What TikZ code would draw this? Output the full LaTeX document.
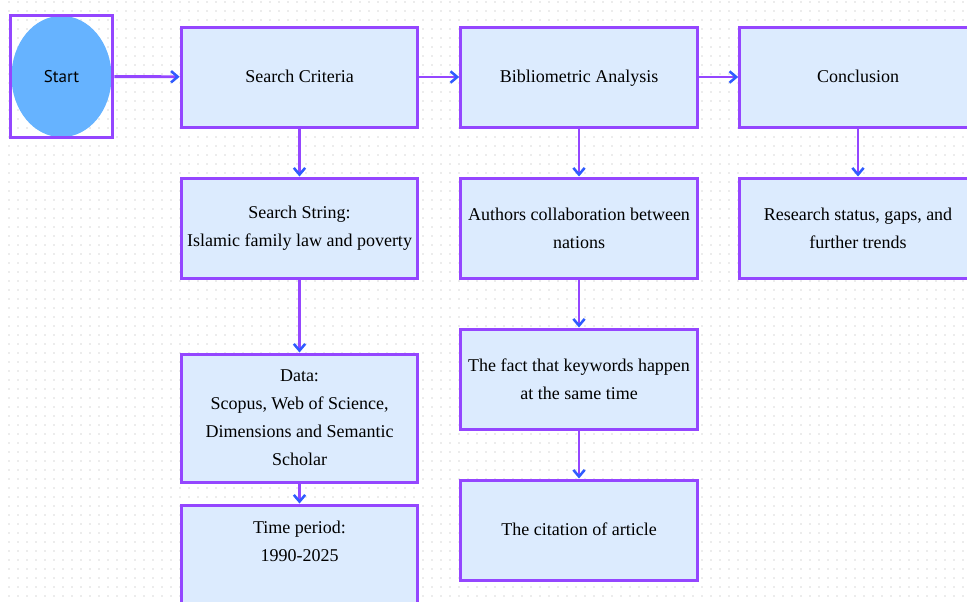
\documentclass[tikz,border=0pt]{standalone}
\usepackage{fontspec}
\setmainfont{Liberation Serif}
\newfontfamily\startfont{PT Sans}
\usetikzlibrary{arrows.meta,shapes.geometric}
\definecolor{purp}{HTML}{9446FF}
\definecolor{boxfill}{HTML}{DCEBFE}
\definecolor{tipblue}{HTML}{2F5BFF}
\definecolor{startblue}{HTML}{66B3FF}
\definecolor{dotgray}{HTML}{ECECEC}
\tikzset{
  flowbox/.style={draw=purp, line width=2.25pt, fill=boxfill, minimum width=177.5pt, minimum height=75pt, align=center, inner sep=2pt, font=\fontsize{13.5}{21}\selectfont},
  flowarrow/.style={draw=purp, line width=2.2pt, -{Straight Barb[length=5pt,width=8.5pt,line width=1.9pt,color=tipblue]}},
}
\begin{document}
\begin{tikzpicture}[x=0.75pt,y=-0.75pt]
\useasboundingbox (0,0) rectangle (967,601);
\fill[white] (0,0) rectangle (967,601);
% dotted background
\foreach \yy in {2,11,...,600} {
  \draw[dotgray, line width=1.5pt, dash pattern=on 1.5pt off 5.25pt] (8,\yy) -- (967,\yy);
}
% start
\node[ellipse, fill=startblue, minimum width=75pt, minimum height=91pt, inner sep=0pt] (startell) at (61.5,76.5) {};
\node[draw=purp, line width=2.25pt, minimum width=77pt, minimum height=92pt, inner sep=0pt, font=\startfont\fontsize{12.75}{15}\selectfont] (startbox) at (61.5,76.5) {Start};
% column 1
\node[flowbox] (crit) at (299.5,77) {\strut Search Criteria};
\node[flowbox] (sstring) at (299.5,228) {Search String:\\Islamic family law and poverty};
\node[flowbox, minimum height=96pt] (data) at (299.5,418) {Data:\\Scopus, Web of Science,\\Dimensions and Semantic\\Scholar};
\node[flowbox, minimum height=81pt] (time) at (299.5,559) {Time period:\\1990-2025\\\strut};
% column 2
\node[flowbox] (biblio) at (579,77) {\strut Bibliometric Analysis};
\node[flowbox] (authors) at (579,228) {Authors collaboration between\\nations};
\node[flowbox] (keywords) at (579,379) {The fact that keywords happen\\at the same time};
\node[flowbox] (citation) at (579,530) {\strut The citation of article};
% column 3
\node[flowbox] (concl) at (858,77) {\strut Conclusion};
\node[flowbox] (research) at (858,228) {Research status, gaps, and\\further trends};
% connectors
\draw[flowarrow] (startbox) -- (crit);
\draw[flowarrow] (crit) -- (biblio);
\draw[flowarrow] (biblio) -- (concl);
\draw[flowarrow] (crit) -- (sstring);
\draw[flowarrow] (sstring) -- (data);
\draw[flowarrow] (data) -- (time);
\draw[flowarrow] (biblio) -- (authors);
\draw[flowarrow] (authors) -- (keywords);
\draw[flowarrow] (keywords) -- (citation);
\draw[flowarrow] (concl) -- (research);
\end{tikzpicture}
\end{document}
